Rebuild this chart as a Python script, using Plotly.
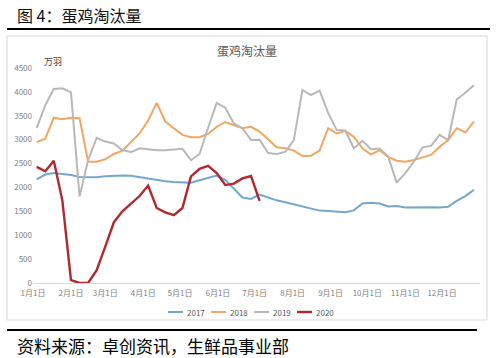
import plotly.graph_objects as go
import pandas as pd

# ---- data (weekly, 万羽) ----
week_start = "2019-01-04"
n_weeks = 52
s2017 = [2170, 2270, 2300, 2280, 2260, 2220, 2210, 2215, 2235, 2245, 2250, 2245, 2215,
         2180, 2150, 2130, 2115, 2110, 2100, 2150, 2200, 2250, 2160, 1980, 1790, 1760,
         1850, 1790, 1730, 1690, 1650, 1600, 1560, 1515, 1507, 1500, 1480, 1520, 1665,
         1680, 1665, 1600, 1610, 1580, 1585, 1595, 1585, 1580, 1595, 1720, 1820, 1950]
s2018 = [2950, 3020, 3460, 3430, 3460, 3450, 2540, 2540, 2590, 2700, 2770, 2950, 3130,
         3400, 3770, 3380, 3240, 3100, 3050, 3050, 3120, 3270, 3370, 3310, 3240, 3270,
         3170, 3010, 2840, 2820, 2770, 2660, 2665, 2770, 3240, 3130, 3180, 3060, 2820,
         2690, 2780, 2640, 2560, 2540, 2575, 2630, 2680, 2850, 2990, 3240, 3150, 3380]
s2019 = [3240, 3720, 4060, 4075, 3990, 1810, 2570, 3040, 2960, 2920, 2780, 2740, 2820,
         2800, 2780, 2780, 2790, 2810, 2570, 2700, 3250, 3770, 3670, 3340, 3240, 2995,
         3000, 2720, 2700, 2745, 2990, 4040, 3935, 4025, 3560, 3200, 3190, 2820, 2975,
         2800, 2815, 2650, 2100, 2300, 2540, 2840, 2870, 3100, 2990, 3840, 3980, 4140]
s2020 = [2430, 2340, 2560, 1720, 60, 0, 0, 270, 760, 1270, 1500, 1650, 1820,
         2040, 1570, 1480, 1420, 1570, 2230, 2390, 2450, 2300, 2050, 2080, 2190, 2240,
         1720]
series_names = ["2017", "2018", "2019", "2020"]
series_colors = ["#74a7cc", "#f2a65e", "#b8b8b8", "#b1282e"]
series_widths = [2, 2, 2, 2.4]
month_ticks = ["2019-%02d-01" % m for m in range(1, 13)]
month_labels = ["%d月1日" % m for m in range(1, 13)]
y_ticks = [0, 500, 1000, 1500, 2000, 2500, 3000, 3500, 4000, 4500]

title_text = "图 4：蛋鸡淘汰量"
chart_title = "蛋鸡淘汰量"
unit_text = "万羽"
source_text = "资料来源：卓创资讯，生鲜品事业部"

dates = list(pd.date_range(week_start, periods=n_weeks, freq="7D"))
all_series = [s2017, s2018, s2019, s2020]

# ---- layout geometry (pixels) ----
W, H = 500, 358
L, R, T, B = 33, 480, 68, 283
FONT = "Noto Sans CJK SC"


def px(x):
    return (x - L) / (R - L)


def py(y):
    return (B - y) / (B - T)


fig = go.Figure()
for name, vals, col, w in zip(series_names, all_series, series_colors, series_widths):
    fig.add_trace(go.Scatter(x=dates[:len(vals)], y=vals, name=name, mode="lines",
                             line=dict(color=col, width=w), showlegend=False))

shapes = [
    dict(type="rect", xref="paper", yref="paper", x0=px(7), x1=px(487), y0=py(320), y1=py(36),
         line=dict(color="#d9d9d9", width=1), layer="below"),
    dict(type="line", xref="paper", yref="paper", x0=px(7), x1=px(490), y0=py(29), y1=py(29),
         line=dict(color="#000000", width=2)),
    dict(type="line", xref="paper", yref="paper", x0=px(7), x1=px(477), y0=py(330), y1=py(330),
         line=dict(color="#000000", width=2)),
]
annotations = [
    dict(text=title_text, xref="paper", yref="paper", x=px(15), y=py(15), xanchor="left",
         yanchor="middle", showarrow=False, font=dict(family=FONT, size=16, color="#111111")),
    dict(text=chart_title, xref="paper", yref="paper", x=px(247), y=py(50), xanchor="center",
         yanchor="middle", showarrow=False, font=dict(family=FONT, size=12, color="#595959")),
    dict(text=unit_text, xref="paper", yref="paper", x=px(42), y=py(61), xanchor="left",
         yanchor="middle", showarrow=False, font=dict(family=FONT, size=9, color="#404040")),
    dict(text=source_text, xref="paper", yref="paper", x=px(15), y=py(345), xanchor="left",
         yanchor="middle", showarrow=False, font=dict(family=FONT, size=17, color="#000000")),
]
leg_x = [168, 211, 254, 297]
for name, col, w, lx in zip(series_names, series_colors, series_widths, leg_x):
    shapes.append(dict(type="line", xref="paper", yref="paper", x0=px(lx), x1=px(lx + 15),
                       y0=py(312), y1=py(312), line=dict(color=col, width=w)))
    annotations.append(dict(text=name, xref="paper", yref="paper", x=px(lx + 17), y=py(312),
                            xanchor="left", yanchor="middle", showarrow=False,
                            font=dict(family=FONT, size=8, color="#595959")))

fig.update_layout(
    width=W, height=H,
    margin=dict(l=L, r=W - R, t=T, b=H - B),
    paper_bgcolor="white", plot_bgcolor="white",
    shapes=shapes, annotations=annotations,
    xaxis=dict(type="date", range=["2019-01-01", "2020-01-01"], tickvals=month_ticks,
               ticktext=month_labels, showgrid=False, zeroline=False, showline=True,
               linecolor="#d9d9d9", linewidth=1, ticks="", tickangle=0, ticklabelstandoff=2,
               tickfont=dict(family=FONT, size=8, color="#7f7f7f")),
    yaxis=dict(range=[0, 4500], tickvals=y_ticks, showgrid=False, zeroline=False,
               showline=False, ticks="", tickfont=dict(family=FONT, size=8, color="#7f7f7f")),
)
fig.write_html("out.html", config={"displayModeBar": False},
               post_script="document.body.style.margin='0';document.body.style.overflow='hidden';")
